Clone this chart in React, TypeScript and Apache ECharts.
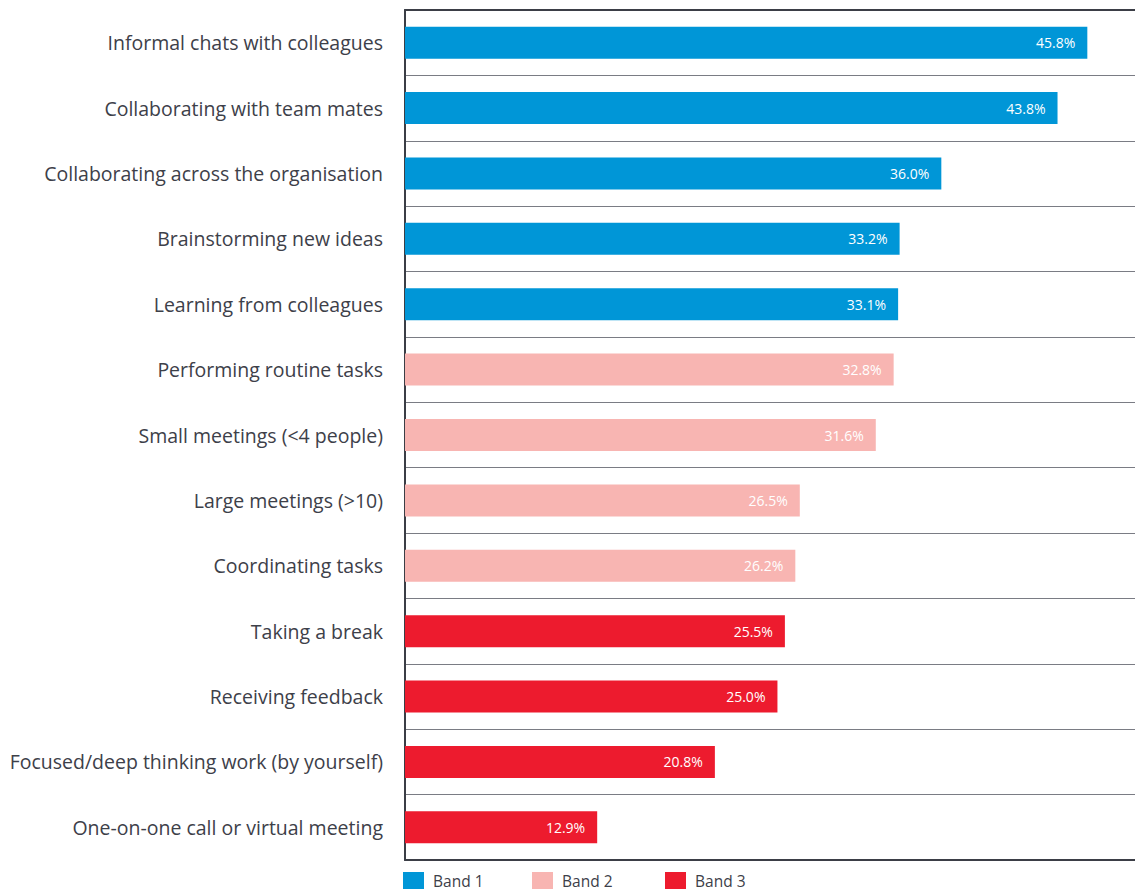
import React, { useEffect, useRef } from "react";
import * as echarts from "echarts";

const categories = [
  "Informal chats with colleagues",
  "Collaborating with team mates",
  "Collaborating across the organisation",
  "Brainstorming new ideas",
  "Learning from colleagues",
  "Performing routine tasks",
  "Small meetings (<4 people)",
  "Large meetings (>10)",
  "Coordinating tasks",
  "Taking a break",
  "Receiving feedback",
  "Focused/deep thinking work (by yourself)",
  "One-on-one call or virtual meeting",
];

const band1Values = [45.8, 43.8, 36.0, 33.2, 33.1];
const band2Values = [32.8, 31.6, 26.5, 26.2];
const band3Values = [25.5, 25.0, 20.8, 12.9];

const bandNames = ["Band 1", "Band 2", "Band 3"];
const bandColors = ["#0096d7", "#f8b5b2", "#ed1b2e"];
const legendLefts = [403, 532, 665];

const AXIS_DARK = "#3b3e46";
const SEP = "#7a7c84";
const TEXT = "#3d4049";
const FONT = "'Open Sans', sans-serif";

function buildSeriesData(): (number | null)[][] {
  const groups = [band1Values, band2Values, band3Values];
  const out: (number | null)[][] = [];
  let start = 0;
  groups.forEach((g) => {
    const arr: (number | null)[] = categories.map(() => null);
    g.forEach((v, i) => {
      arr[start + i] = v;
    });
    out.push(arr);
    start += g.length;
  });
  return out;
}

export default function App() {
  const ref = useRef<HTMLDivElement>(null);

  useEffect(() => {
    if (!ref.current) return;
    const chart = echarts.init(ref.current, undefined, { renderer: "svg" });
    const data = buildSeriesData();
    const option: any = {
      animation: false,
      backgroundColor: "#ffffff",
      grid: { left: 405, right: 0, top: 10, bottom: 30, containLabel: false },
      legend: bandNames.map((name, i) => ({
        data: [name],
        left: legendLefts[i],
        top: 872,
        itemWidth: 21,
        itemHeight: 17,
        icon: "rect",
        padding: 0,
        selectedMode: false,
        textStyle: {
          fontSize: 15.5,
          color: TEXT,
          fontFamily: FONT,
          padding: [0, 0, 0, 4],
        },
      })),
      xAxis: [
        {
          type: "value",
          min: 0,
          max: 49,
          position: "bottom",
          axisLine: { show: true, lineStyle: { color: AXIS_DARK, width: 2 } },
          axisTick: { show: false },
          axisLabel: { show: false },
          splitLine: { show: false },
        },
        {
          type: "value",
          min: 0,
          max: 49,
          position: "top",
          axisLine: { show: true, lineStyle: { color: AXIS_DARK, width: 2 } },
          axisTick: { show: false },
          axisLabel: { show: false },
          splitLine: { show: false },
        },
      ],
      yAxis: {
        type: "category",
        inverse: true,
        data: categories,
        offset: 2,
        axisLine: { show: true, lineStyle: { color: AXIS_DARK, width: 2 } },
        axisTick: { show: false },
        splitLine: { show: true, lineStyle: { color: SEP, width: 1 } },
        axisLabel: {
          fontSize: 19.5,
          color: TEXT,
          fontFamily: FONT,
          margin: 20,
          padding: [0, 0, 5, 0],
        },
      },
      series: bandNames.map((name, i) => ({
        name,
        type: "bar",
        stack: "all",
        data: data[i],
        barWidth: 32,
        itemStyle: { color: bandColors[i] },
        label: {
          show: true,
          position: "insideRight",
          distance: 12,
          color: "#ffffff",
          fontSize: 14,
          fontFamily: FONT,
          formatter: (p: any) =>
            p.value == null ? "" : Number(p.value).toFixed(1) + "%",
        },
      })),
    };
    chart.setOption(option);
    return () => chart.dispose();
  }, []);

  return (
    <div
      ref={ref}
      style={{ position: "absolute", left: 0, top: 0, width: 1135, height: 890 }}
    />
  );
}
